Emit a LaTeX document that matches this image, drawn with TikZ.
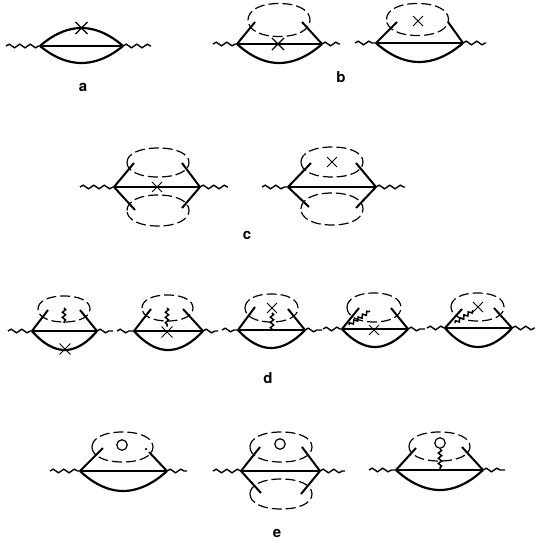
\documentclass[tikz,border=0pt]{standalone}
\usepackage{xcolor}
\usepackage{fontspec}
\setsansfont{TeX Gyre Heros}
\usetikzlibrary{decorations.pathmorphing,shapes.misc}
\tikzset{
  wav/.style={decorate,decoration={snake,segment length=10.5pt,amplitude=1.8pt},line width=1.4pt},
  pho/.style={decorate,decoration={snake,segment length=5.2pt,amplitude=1.6pt},line width=1.5pt},
  ln/.style={line width=2pt},
  arc/.style={line width=2.2pt},
  bub/.style={line width=1.2pt,dash pattern=on 10pt off 4pt},
  crs/.style={draw,cross out,inner sep=0pt,minimum size=9pt,line width=0.9pt},
  crb/.style={crs,minimum size=11pt,line width=1.1pt},
  lop/.style={draw,circle,inner sep=0pt,minimum size=10.5pt,line width=1.2pt},
  lab/.style={font=\fontsize{15}{15}\sffamily\bfseries,inner sep=0pt}
}
\newcommand{\core}[6]{
  \coordinate (#1wl) at (#3,#2); \coordinate (#1l) at (#4,#2);
  \coordinate (#1r) at (#5,#2); \coordinate (#1wr) at (#6,#2);
  \draw[wav] (#1wl) -- (#1l); \draw[wav] (#1r) -- (#1wr);
  \draw[ln] (#1l) -- (#1r);}
\newcommand{\belly}[3]{\coordinate (#1b) at (#2,#3); \draw[arc] (#1l) parabola bend (#1b) (#1r);}
\newcommand{\legg}[4]{\coordinate (#2) at (#3,#4); \draw[ln] (#1) -- (#2);}
\newcommand{\bubb}[5]{\coordinate (#1) at (#2,#3);
  \draw[bub,shift={(#1)},xscale=#4,yscale=#5] (-1,0) .. controls (-1,-0.6) and (-0.6,-1) .. (0,-1)
    .. controls (0.6,-1) and (1,-0.6) .. (1,0) .. controls (1,0.6) and (0.6,1) .. (0,1)
    .. controls (-0.6,1) and (-1,0.6) .. (-1,0) -- cycle;}

\begin{document}
\begin{tikzpicture}[x=1pt,y=-1pt]
\useasboundingbox (0,0) rectangle (535,541);

\core{a}{46}{6}{40}{123}{151}
\belly{a}{81.5}{63}
\coordinate (at) at (81.5,28); \draw[arc] (al) parabola bend (at) (ar);
\node[crb] (ax) at (at) {};
\node[lab] (la) at (83,87) {a};

\core{p}{44}{213}{237}{322}{340}
\belly{p}{279}{63}
\legg{pl}{pul}{255}{22} \legg{pr}{pur}{302}{22}
\bubb{pe}{279}{20}{31}{16.5}
\node[crb] (px) at (278,44) {};

\core{q}{43}{355}{376}{463}{486}
\belly{q}{419}{62}
\legg{ql}{qul}{397}{22} \legg{qr}{qur}{448}{22}
\bubb{qe}{417.5}{19.5}{31}{16}
\node[crs] (qx) at (418,21) {};
\node[lab] (lb) at (341,77) {b};

\core{c}{187}{80}{114}{200}{228}
\legg{cl}{cul}{134}{163} \legg{cr}{cur}{182}{163}
\legg{cl}{cdl}{135}{210} \legg{cr}{cdr}{182}{208}
\bubb{cu}{158}{162.5}{31}{14.5}
\bubb{cd}{158}{210.5}{31}{15.5}
\node[crs] (cx) at (157,187) {};

\core{e}{187}{262}{288}{376}{405}
\legg{el}{eul}{311}{163} \legg{er}{eur}{356}{163}
\legg{el}{edl}{309}{207} \legg{er}{edr}{356}{208}
\bubb{eu}{332}{162}{31}{15}
\bubb{ed}{332}{209}{31}{16}
\node[crs] (ex) at (332,162) {};
\node[lab] (lc) at (247,235) {c};

\core{f}{331}{8}{32}{97}{113}
\belly{f}{65}{350}
\legg{fl}{ful}{48}{310} \legg{fr}{fur}{80}{310}
\bubb{fe}{64}{309}{26}{13}
\coordinate (fp) at (64,308); \coordinate (fq) at (64,323);
\draw[pho] (fp) -- (fq);
\node[crs,minimum size=10pt] (fx) at (65,349) {};

\core{g}{331}{117}{134}{203}{218}
\belly{g}{168}{350}
\legg{gl}{gul}{151}{309} \legg{gr}{gur}{183}{309}
\bubb{ge}{167.5}{308}{25.5}{13}
\node[crs,minimum size=10pt] (gx) at (167,332) {};
\coordinate (gp) at (167,308);
\draw[pho] (gp) -- (gx);

\core{h}{330}{222}{238}{305}{322}
\belly{h}{271}{348}
\legg{hl}{hul}{255}{307} \legg{hr}{hur}{288}{309}
\bubb{he}{271.5}{308}{26.5}{14}
\node[crs] (hx) at (272,308) {};
\draw[pho] (hx) -- (hl-|hx);

\core{i}{329}{323}{342}{408}{425}
\belly{i}{375}{347}
\legg{il}{iul}{359}{308} \legg{ir}{iur}{391}{308}
\bubb{ie}{374}{307.5}{27}{14.5}
\coordinate (ip) at (349,325); \coordinate (iq) at (370,311);
\draw[pho] (ip) -- (iq);
\node[crs] (ix) at (374,330) {};

\core{j}{328}{427}{445}{512}{535}
\belly{j}{478}{347}
\legg{jl}{jul}{462}{309} \legg{jr}{jur}{494}{308}
\bubb{je}{477.5}{307}{26.5}{14}
\node[crs] (jx) at (478,307) {};
\coordinate (jp) at (455,323);
\draw[pho] (jp) -- (jx);
\node[lab] (ld) at (268,378) {d};

\core{k}{471}{50}{80}{167}{187}
\belly{k}{123}{491}
\legg{kl}{kul}{103}{448} \legg{kr}{kur}{149}{452}
\bubb{ke}{122.5}{447}{30.5}{15}
\node[lop] (ko) at (122,445) {};
\node[circle,fill,inner sep=0pt,minimum size=2.5pt] (kd) at (146,449) {};

\core{m}{471}{213}{241}{320}{345}
\legg{ml}{mul}{260}{447} \legg{mr}{mur}{302}{447}
\legg{ml}{mdl}{261}{493} \legg{mr}{mdr}{301}{494}
\bubb{mu}{281}{447}{31}{15}
\bubb{md}{281}{494}{31}{15}
\node[lop] (mo) at (280,444) {};

\core{n}{470}{369}{396}{483}{505}
\belly{n}{440}{490}
\legg{nl}{nul}{416}{448} \legg{nr}{nur}{462}{447}
\bubb{ne}{439.5}{446.5}{30.5}{14.5}
\node[lop] (no) at (440,443) {};
\draw[pho] (no) -- (nl-|no);
\node[lab] (le) at (277,533) {e};
\end{tikzpicture}
\end{document}
